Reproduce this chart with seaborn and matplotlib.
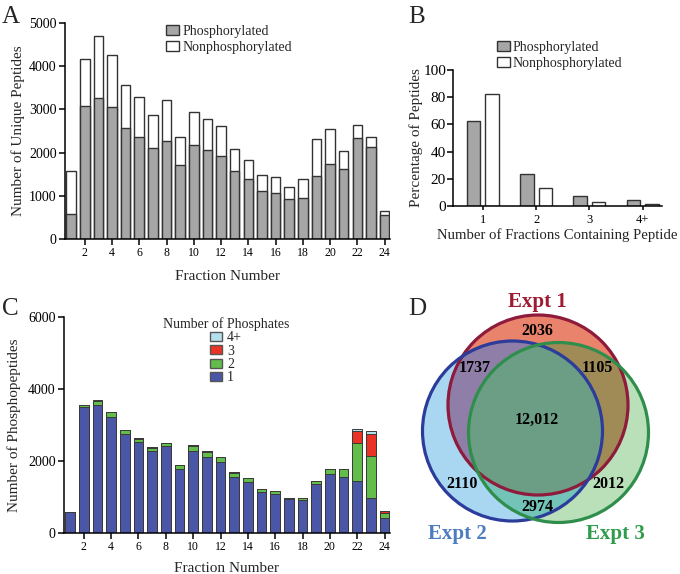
"""
Four-panel peptide fractionation figure (A-D) drawn with seaborn / matplotlib.
"""

import numpy as np
import pandas as pd
import matplotlib
matplotlib.use("Agg")
import matplotlib.pyplot as plt
import seaborn as sns
from matplotlib.patches import Circle, Polygon, Patch

# ---- data -----------------------------------------------------------------
fractions = list(range(1, 25))

# Panel A: unique peptides per fraction
phospho_a = [585, 3070, 3270, 3060, 2560, 2360, 2110, 2270, 1710, 2180, 2050, 1930,
             1570, 1400, 1120, 1070, 930, 955, 1450, 1730, 1620, 2340, 2140, 550]
nonphospho_a = [985, 1100, 1420, 1190, 1000, 920, 760, 940, 640, 755, 720, 680,
                510, 420, 370, 355, 280, 435, 860, 810, 410, 310, 230, 90]

# Panel B: percentage of peptides by number of fractions containing them
n_fractions = ["1", "2", "3", "4+"]
pct_phospho = [62.8, 23.5, 7.3, 4.4]
pct_nonphospho = [82.6, 13.4, 2.7, 1.2]

# Panel C: phosphopeptides per fraction by number of phosphates
one_phos = [580, 3500, 3565, 3230, 2740, 2540, 2290, 2410, 1790, 2290, 2100, 1960,
            1550, 1430, 1130, 1090, 935, 925, 1375, 1635, 1560, 1450, 980, 410]
two_phos = [0, 60, 110, 130, 110, 85, 85, 95, 105, 140, 160, 150,
            125, 100, 90, 85, 40, 40, 75, 130, 205, 1060, 1160, 150]
three_phos = [0, 5, 5, 10, 10, 5, 5, 5, 5, 10, 10, 10,
              10, 10, 10, 5, 5, 5, 5, 10, 10, 310, 610, 45]
four_plus_phos = [0, 0, 5, 0, 0, 0, 0, 0, 0, 0, 0, 0,
                  0, 0, 0, 0, 0, 0, 0, 0, 5, 70, 90, 15]
phos_classes = ["4+", "3", "2", "1"]

# Panel D: Venn region counts
venn_sets = ["Expt 1", "Expt 2", "Expt 3"]
venn_regions = ["100", "110", "101", "111", "010", "001", "011"]
venn_counts = [2036, 1737, 1105, 12012, 2110, 2012, 2974]

# ---- style ----------------------------------------------------------------
sns.set_style("ticks")
plt.rcParams["font.family"] = ["Liberation Serif", "DejaVu Serif"]
plt.rcParams["axes.linewidth"] = 1.1
plt.rcParams["xtick.major.width"] = 1.1
plt.rcParams["ytick.major.width"] = 1.1
plt.rcParams["xtick.color"] = "black"
plt.rcParams["ytick.color"] = "black"
plt.rcParams["axes.edgecolor"] = "black"

W, H = 680, 574
fig = plt.figure(figsize=(W / 100, H / 100), dpi=100)


def px_axes(left, top, right, bottom):
    return fig.add_axes([left / W, 1 - bottom / H, (right - left) / W, (bottom - top) / H])


GRAY = "#a6a6a6"
EDGE = "#333333"

# ---- Panel A --------------------------------------------------------------
df_a = pd.DataFrame({"fraction": fractions, "phos": phospho_a,
                     "total": np.add(phospho_a, nonphospho_a)})
axA = px_axes(65, 23, 390, 239)
for col, fc in [("total", "white"), ("phos", GRAY)]:
    sns.barplot(data=df_a, x="fraction", y=col, native_scale=True, color=fc,
                saturation=1, edgecolor=EDGE, linewidth=1.0, width=0.7,
                errorbar=None, ax=axA)
axA.set_xlim(0.55, 24.4)
axA.set_ylim(0, 5000)
axA.set_xticks(range(2, 25, 2))
axA.set_yticks(range(0, 5001, 1000))
axA.tick_params(axis="x", labelsize=8.5, length=4, pad=2)
axA.tick_params(axis="y", labelsize=10, length=4, pad=2)
axA.set_xlabel("Fraction Number", fontsize=11, labelpad=8)
axA.set_ylabel("Number of Unique Peptides", fontsize=11, labelpad=3)
sns.despine(ax=axA)
axA.legend(handles=[Patch(facecolor=GRAY, edgecolor=EDGE, label="Phosphorylated"),
                    Patch(facecolor="white", edgecolor=EDGE, label="Nonphosphorylated")],
           loc="upper left", bbox_to_anchor=(166 / W, 1 - 25 / H),
           bbox_transform=fig.transFigure, frameon=False, fontsize=10,
           handlelength=0.95, handleheight=0.75, handletextpad=0.25,
           labelspacing=0.2, borderpad=0, borderaxespad=0)

# ---- Panel B --------------------------------------------------------------
df_b = pd.DataFrame({
    "n": n_fractions * 2,
    "pct": pct_phospho + pct_nonphospho,
    "kind": ["Phosphorylated"] * 4 + ["Nonphosphorylated"] * 4,
})
axB = px_axes(453, 70, 662, 206)
sns.barplot(data=df_b, x="n", y="pct", hue="kind",
            palette={"Phosphorylated": GRAY, "Nonphosphorylated": "white"},
            saturation=1, edgecolor=EDGE, linewidth=1.0, width=0.69, gap=0.26,
            errorbar=None, legend=False, ax=axB)
axB.set_xlim(-0.56, 3.36)
axB.set_ylim(0, 100)
axB.set_yticks(range(0, 101, 20))
axB.tick_params(axis="x", labelsize=9, length=3, pad=3)
axB.tick_params(axis="y", labelsize=11, length=4, pad=1)
axB.set_xlabel("Number of Fractions Containing Peptide", fontsize=10.6, labelpad=1)
axB.set_ylabel("Percentage of Peptides", fontsize=11, labelpad=0)
sns.despine(ax=axB)
axB.legend(handles=[Patch(facecolor=GRAY, edgecolor=EDGE, label="Phosphorylated"),
                    Patch(facecolor="white", edgecolor=EDGE, label="Nonphosphorylated")],
           loc="upper left", bbox_to_anchor=(497 / W, 1 - 41 / H),
           bbox_transform=fig.transFigure, frameon=False, fontsize=10,
           handlelength=0.95, handleheight=0.75, handletextpad=0.2,
           labelspacing=0.2, borderpad=0, borderaxespad=0)

# ---- Panel C --------------------------------------------------------------
c1 = np.array(one_phos)
c2 = c1 + np.array(two_phos)
c3 = c2 + np.array(three_phos)
c4 = c3 + np.array(four_plus_phos)
df_c = pd.DataFrame({"fraction": fractions, "c1": c1, "c2": c2, "c3": c3, "c4": c4})
phos_colors = {"4+": "#b5e1ee", "3": "#ea3324", "2": "#62bd4a", "1": "#4a56a6"}
axC = px_axes(64, 317, 390, 533)
for col, cls in [("c4", "4+"), ("c3", "3"), ("c2", "2"), ("c1", "1")]:
    sns.barplot(data=df_c, x="fraction", y=col, native_scale=True,
                color=phos_colors[cls], saturation=1, edgecolor="#3a3a3a",
                linewidth=0.7, width=0.7, errorbar=None, ax=axC)
axC.set_xlim(0.55, 24.4)
axC.set_ylim(0, 6000)
axC.set_xticks(range(2, 25, 2))
axC.set_yticks(range(0, 6001, 2000))
axC.tick_params(axis="x", labelsize=8.5, length=4, pad=2)
axC.tick_params(axis="y", labelsize=10, length=4, pad=2)
axC.set_xlabel("Fraction Number", fontsize=11, labelpad=6)
axC.set_ylabel("Number of Phosphopeptides", fontsize=11, labelpad=5)
sns.despine(ax=axC)
legC = axC.legend(handles=[Patch(facecolor=phos_colors[k], edgecolor="#555555", label=k)
                           for k in phos_classes],
                  title="Number of Phosphates", title_fontsize=10,
                  loc="upper center", bbox_to_anchor=(226 / W, 1 - 317 / H),
                  bbox_transform=fig.transFigure, frameon=False, fontsize=10,
                  handlelength=0.85, handleheight=0.65, handletextpad=0.4,
                  labelspacing=0.03, borderpad=0, borderaxespad=0)

# ---- Panel D (Venn) -------------------------------------------------------
axD = px_axes(400, 290, 680, 574)
axD.set_xlim(400, 680)
axD.set_ylim(574, 290)
axD.axis("off")

R = 90
centers = [(538, 405), (512.5, 431), (558.5, 432.5)]
fills = ["#e9836c", "#a9d6f1", "#b9e0b9"]
edges = ["#8e1b3c", "#2b3c9b", "#2f8e4c"]
pair_fill = {(0, 1): "#8f7ea7", (0, 2): "#a08a56", (1, 2): "#73c3b8"}
center_fill = "#6b9e84"

base = []
for c, fc in zip(centers, fills):
    p = Circle(c, R, facecolor=fc, edgecolor="none")
    axD.add_patch(p)
    base.append(p)
for (i, j), fc in pair_fill.items():
    p = Circle(centers[j], R, facecolor=fc, edgecolor="none")
    axD.add_patch(p)
    p.set_clip_path(base[i])

# triple intersection as a convex polygon
t = np.linspace(0, 2 * np.pi, 720)
pts = np.vstack([np.column_stack([cx + R * np.cos(t), cy + R * np.sin(t)])
                 for cx, cy in centers])
inside = np.all([np.hypot(pts[:, 0] - cx, pts[:, 1] - cy) <= R + 1e-6
                 for cx, cy in centers], axis=0)
tri = pts[inside]
mid = tri.mean(axis=0)
tri = tri[np.argsort(np.arctan2(tri[:, 1] - mid[1], tri[:, 0] - mid[0]))]
axD.add_patch(Polygon(tri, closed=True, facecolor=center_fill, edgecolor="none"))

for c, ec in zip(centers, edges):
    axD.add_patch(Circle(c, R, facecolor="none", edgecolor=ec, linewidth=2.3))

label_pos = {"100": (537, 331), "110": (475, 368), "101": (597, 368),
             "111": (537, 420), "010": (462, 484), "001": (608, 484),
             "011": (537, 507)}
for reg, n in zip(venn_regions, venn_counts):
    x, y = label_pos[reg]
    txt = f"{n:,}" if n >= 10000 else str(n)
    axD.text(x, y, txt, ha="center", va="center", fontsize=11.5,
             fontweight="bold", color="black")

set_style = [((537, 302), "#9e1b32"), ((457, 534), "#4d7cc1"),
             ((615, 534), "#2e9c4b")]
for name, ((x, y), col) in zip(venn_sets, set_style):
    axD.text(x, y, name, ha="center", va="center", fontsize=15,
             fontweight="bold", color=col)

# ---- panel letters --------------------------------------------------------
for letter, (x, y) in zip("ABCD", [(2, 23), (408, 23), (2, 315), (408, 315)]):
    fig.text(x / W, 1 - y / H, letter, fontsize=18, va="baseline", ha="left")

fig.savefig("out.png", dpi=100)
print("saved out.png")
